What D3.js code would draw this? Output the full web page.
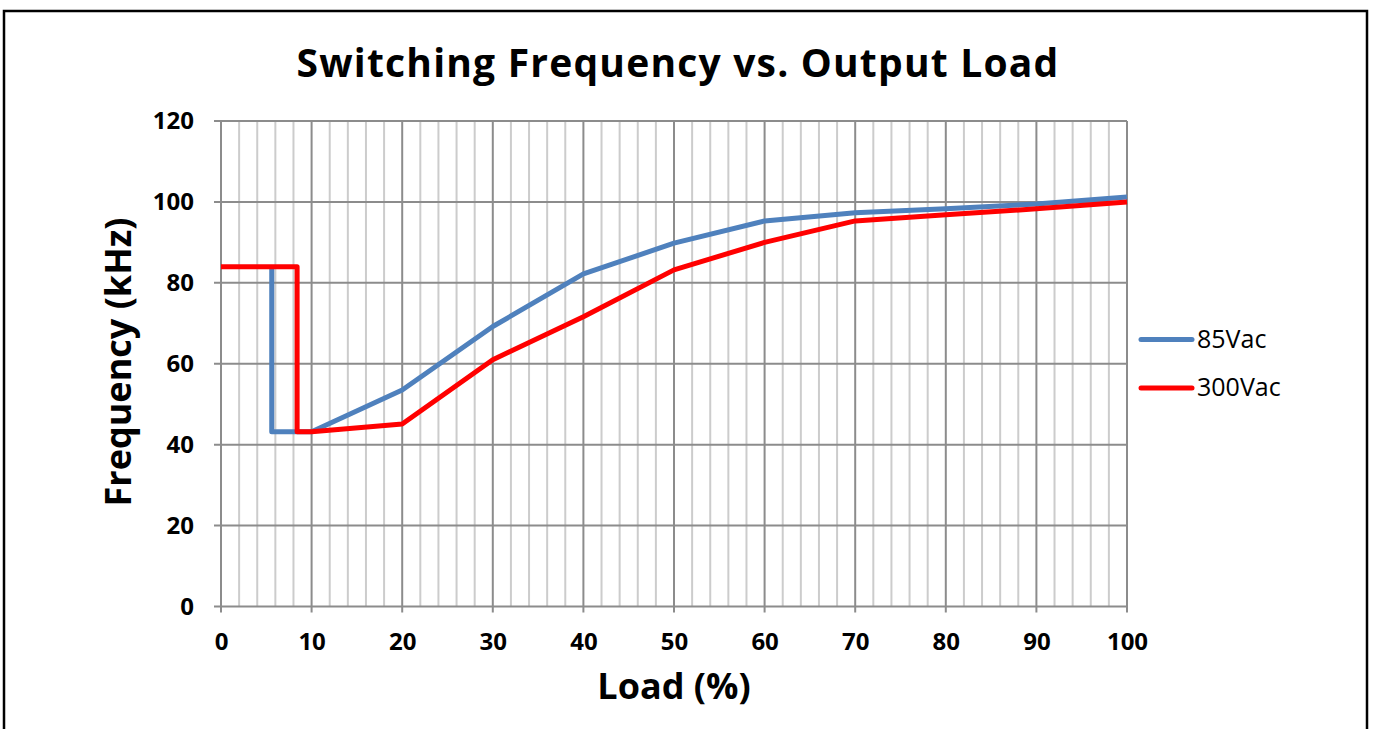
<!DOCTYPE html>
<html>
<head>
<meta charset="utf-8">
<script src="https://cdn.jsdelivr.net/npm/d3@7"></script>
<style>
  body { margin: 0; background: #fff; }
  text { font-family: "Open Sans", "DejaVu Sans", sans-serif; }
</style>
</head>
<body>
<svg id="chart" width="1373" height="729"></svg>
<script>
// series values
var load85 = [5.6, 5.6, 10, 20, 30, 40, 50, 60, 70, 80, 90, 100];
var freq85 = [84, 43.2, 43.2, 53.5, 69.2, 82.2, 89.8, 95.3, 97.3, 98.3, 99.5, 101.2];
var load300 = [0, 8.4, 8.4, 10, 20, 30, 40, 50, 60, 70, 80, 90, 100];
var freq300 = [84, 84, 43.2, 43.2, 45.1, 61, 71.6, 83.2, 90, 95.3, 96.8, 98.3, 100];
var seriesNames = ["85Vac", "300Vac"];
var seriesColors = ["#4f81bd", "#ff0000"];
var xTicks = [0, 10, 20, 30, 40, 50, 60, 70, 80, 90, 100];
var yTicks = [0, 20, 40, 60, 80, 100, 120];

var svg = d3.select("#chart");

// outer frame
svg.append("rect")
    .attr("x", 4).attr("y", 11)
    .attr("width", 1363).attr("height", 730)
    .attr("fill", "none").attr("stroke", "#000").attr("stroke-width", 2.5);

var x = d3.scaleLinear().domain([0, 100]).range([221, 1127]);
var y = d3.scaleLinear().domain([0, 120]).range([606.5, 121]);

var grid = svg.append("g");

// minor vertical lines every 2%
d3.range(2, 100, 2).filter(function (v) { return v % 10 !== 0; }).forEach(function (v) {
    grid.append("line")
        .attr("x1", x(v)).attr("x2", x(v))
        .attr("y1", y(120)).attr("y2", y(0))
        .attr("stroke", "#cccccc").attr("stroke-width", 2);
});
// major vertical lines (with tick below the axis)
xTicks.forEach(function (v) {
    grid.append("line")
        .attr("x1", x(v)).attr("x2", x(v))
        .attr("y1", y(120)).attr("y2", y(0) + 6)
        .attr("stroke", "#8c8c8c").attr("stroke-width", 2);
});
// horizontal lines (with tick left of the axis)
yTicks.forEach(function (v) {
    grid.append("line")
        .attr("x1", x(0) - 7).attr("x2", x(100))
        .attr("y1", y(v)).attr("y2", y(v))
        .attr("stroke", "#8c8c8c").attr("stroke-width", 2);
});

// tick labels via d3 axes (lines hidden)
var xAxis = svg.append("g")
    .attr("transform", "translate(0," + (y(0) + 6) + ")")
    .call(d3.axisBottom(x).tickValues(xTicks).tickSize(0).tickPadding(20));
var yAxis = svg.append("g")
    .attr("transform", "translate(" + (x(0) - 7) + ",0)")
    .call(d3.axisLeft(y).tickValues(yTicks).tickSize(0).tickPadding(20));
[xAxis, yAxis].forEach(function (a) {
    a.select(".domain").remove();
    a.selectAll("text")
        .attr("fill", "#000")
        .style("font-size", "24px")
        .style("font-weight", "bold")
        .style("font-family", "\"Open Sans\", \"DejaVu Sans\", sans-serif");
});

// lines
var line = d3.line().x(function (d) { return x(d[0]); }).y(function (d) { return y(d[1]); });
var data85 = load85.map(function (v, i) { return [v, freq85[i]]; });
var data300 = load300.map(function (v, i) { return [v, freq300[i]]; });
[data85, data300].forEach(function (d, i) {
    svg.append("path")
        .attr("d", line(d))
        .attr("fill", "none")
        .attr("stroke", seriesColors[i])
        .attr("stroke-width", 5)
        .attr("stroke-linejoin", "round");
});

// title
svg.append("text")
    .attr("x", 678).attr("y", 77)
    .attr("text-anchor", "middle")
    .style("font-size", "39px").style("font-weight", "bold")
    .style("letter-spacing", "1.2px")
    .text("Switching Frequency vs. Output Load");

// axis titles
svg.append("text")
    .attr("x", 674).attr("y", 699)
    .attr("text-anchor", "middle")
    .style("font-size", "36px").style("font-weight", "bold")
    .text("Load (%)");
svg.append("text")
    .attr("transform", "translate(131,362) rotate(-90)")
    .attr("text-anchor", "middle")
    .style("font-size", "36px").style("font-weight", "bold")
    .text("Frequency (kHz)");

// legend
seriesNames.forEach(function (name, i) {
    var ly = 339.5 + i * 48.5;
    svg.append("line")
        .attr("x1", 1141).attr("x2", 1192)
        .attr("y1", ly).attr("y2", ly)
        .attr("stroke", seriesColors[i]).attr("stroke-width", 5)
        .attr("stroke-linecap", "round");
    svg.append("text")
        .attr("x", 1197).attr("y", ly + 8)
        .style("font-size", "25px")
        .text(name);
});
</script>
</body>
</html>
